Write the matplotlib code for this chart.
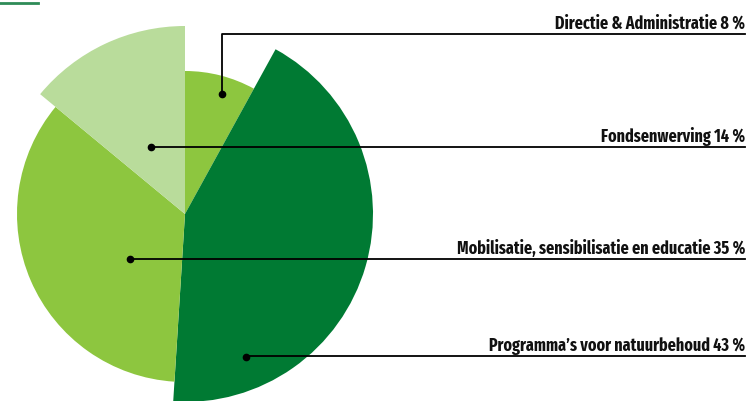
import numpy as np
import matplotlib.pyplot as plt
from matplotlib.patches import Wedge

labels = ['Directie & Administratie', 'Programma\u2019s voor natuurbehoud',
          'Mobilisatie, sensibilisatie en educatie', 'Fondsenwerving']
shares = [8, 43, 35, 14]
radii = [143, 188, 168, 188]
colors = ['#8dc63f', '#007a33', '#8dc63f', '#b9dc9b']

# where the leader dot sits inside each slice (angle clockwise from top, distance)
dot_angle = [17, 157, 231, 333]
dot_dist = [126, 155, 71, 75]
line_y = [35, 357, 260, 148]

font = ['Fira Sans Extra Condensed', 'Roboto Condensed', 'DejaVu Sans']

fig = plt.figure(figsize=(7.51, 4.02), dpi=100)
ax = fig.add_axes([0, 0, 1, 1])
ax.set_xlim(0, 751)
ax.set_ylim(402, 0)
ax.set_aspect('equal')
ax.axis('off')

cx, cy = 185, 215
start = 0
for share, r, col in zip(shares, radii, colors):
    ang = share * 3.6
    ax.add_patch(Wedge((cx, cy), r, -90 + start, -90 + start + ang, color=col, lw=0))
    start += ang

x_end = 745
for lab, share, a, d, ly in zip(labels, shares, dot_angle, dot_dist, line_y):
    t = np.radians(a)
    dx, dy = cx + d * np.sin(t), cy - d * np.cos(t)
    ax.plot(dx, dy, 'o', color='black', ms=4.5, zorder=5)
    if abs(ly - dy) > 2:
        ax.plot([dx, dx, x_end], [dy, ly, ly], color='black', lw=1.3, zorder=4)
    else:
        ax.plot([dx, x_end], [ly, ly], color='black', lw=1.3, zorder=4)
    ax.text(x_end, ly - 6, f'{lab} {share}\u2009%', ha='right', va='baseline',
            fontsize=12.5, fontweight='bold', family=font, color='#111111')

ax.plot([0, 38], [3.5, 3.5], color='#2e8b57', lw=2)

fig.savefig('out.png', dpi=100)
